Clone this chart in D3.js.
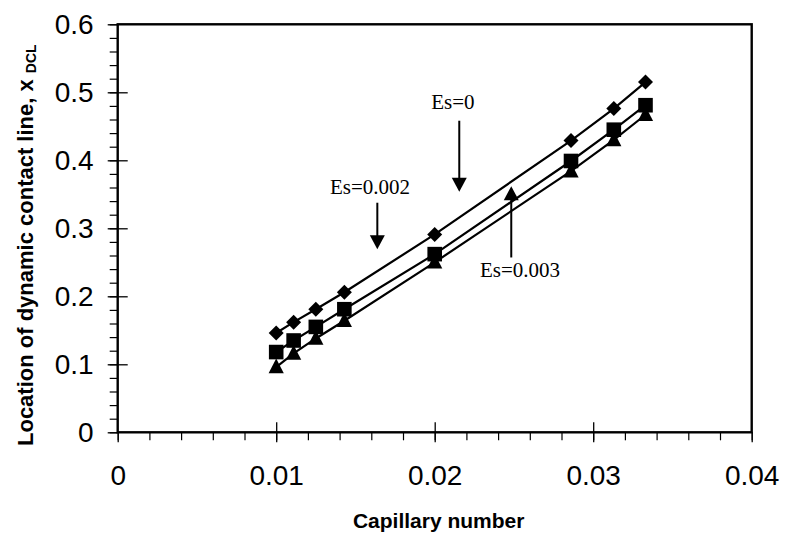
<!DOCTYPE html>
<html>
<head>
<meta charset="utf-8">
<script src="https://cdn.jsdelivr.net/npm/d3@7"></script>
<style>
  body { margin: 0; background: #fff; }
  svg { display: block; }
</style>
</head>
<body>
<svg id="chart" width="785" height="540"></svg>
<script>
// Capillary numbers (1/100, 1/90, 1/80, 1/70, 1/50, 1/35, 1/32, 1/30)
const capillary = [0.0100, 0.0111, 0.0125, 0.0143, 0.0200, 0.0286, 0.0313, 0.0333];

// Location of the dynamic contact line for each elasticity number
const xdclEs0    = [0.146, 0.162, 0.181, 0.206, 0.291, 0.429, 0.476, 0.515];
const xdclEs0002 = [0.118, 0.135, 0.155, 0.181, 0.262, 0.399, 0.445, 0.481];
const xdclEs0003 = [0.096, 0.116, 0.138, 0.164, 0.250, 0.384, 0.430, 0.467];

const seriesNames   = ["Es=0", "Es=0.002", "Es=0.003"];
const seriesMarkers = ["diamond", "square", "triangle"];

const xTickValues = [0, 0.01, 0.02, 0.03, 0.04];
const xTickLabels = ["0", "0.01", "0.02", "0.03", "0.04"];
const yTickValues = [0, 0.1, 0.2, 0.3, 0.4, 0.5, 0.6];
const yTickLabels = ["0", "0.1", "0.2", "0.3", "0.4", "0.5", "0.6"];

// Annotation labels with their arrows (data coordinates)
const noteTexts  = ["Es=0", "Es=0.002", "Es=0.003"];
const noteTextCa = [0.02115, 0.01592, 0.02538];
const noteTextY  = [0.4754, 0.3504, 0.2284];
const arrowCa    = [0.02155, 0.01638, 0.02483];
const arrowFrom  = [0.4582, 0.3376, 0.2571];
const arrowTo    = [0.3538, 0.2693, 0.3619];

const svg = d3.select("#chart");
const plot = { left: 117.7, right: 751.7, top: 24.3, bottom: 432.3 };

const x = d3.scaleLinear().domain([0, 0.04]).range([plot.left, plot.right]);
const y = d3.scaleLinear().domain([0, 0.6]).range([plot.bottom, plot.top]);

const sans = "'Liberation Sans', Arial, sans-serif";
const serif = "'Liberation Serif', 'Times New Roman', serif";

// ---- Axes -------------------------------------------------------------
const xMinor = d3.range(0, 0.0401, 0.002).map(v => +v.toFixed(4));
const yMinor = d3.range(0, 0.601, 0.02).map(v => +v.toFixed(3));

// minor ticks (outside only)
svg.append("g")
  .attr("transform", `translate(0,${plot.bottom})`)
  .call(d3.axisBottom(x).tickValues(xMinor).tickSize(8).tickFormat(""))
  .call(g => g.select(".domain").remove())
  .call(g => g.selectAll("line").attr("stroke", "#000").attr("stroke-width", 1.2));

svg.append("g")
  .attr("transform", `translate(${plot.left},0)`)
  .call(d3.axisLeft(y).tickValues(yMinor).tickSize(8).tickFormat(""))
  .call(g => g.select(".domain").remove())
  .call(g => g.selectAll("line").attr("stroke", "#000").attr("stroke-width", 1.2));

// major ticks (crossing the axis) with labels
const xAxis = svg.append("g")
  .attr("transform", `translate(0,${plot.bottom})`)
  .call(d3.axisBottom(x).tickValues(xTickValues).tickSize(10).tickPadding(14)
    .tickFormat((d, i) => xTickLabels[i]));
xAxis.select(".domain").remove();
xAxis.selectAll(".tick line")
  .attr("stroke", "#000").attr("stroke-width", 1.3)
  .attr("y1", (d, i) => (i > 0 && i < xTickValues.length - 1) ? -10 : 0);
xAxis.selectAll(".tick text")
  .attr("font-family", sans).attr("font-size", 28).attr("fill", "#000")
  .attr("dy", null).attr("y", 53);

const yAxis = svg.append("g")
  .attr("transform", `translate(${plot.left},0)`)
  .call(d3.axisLeft(y).tickValues(yTickValues).tickSize(10).tickPadding(14)
    .tickFormat((d, i) => yTickLabels[i]));
yAxis.select(".domain").remove();
yAxis.selectAll(".tick line")
  .attr("stroke", "#000").attr("stroke-width", 1.3)
  .attr("x1", (d, i) => (i > 0 && i < yTickValues.length - 1) ? 10 : 0);
yAxis.selectAll(".tick text")
  .attr("font-family", sans).attr("font-size", 28).attr("fill", "#000")
  .attr("x", -24);

// plot frame
svg.append("rect")
  .attr("x", plot.left).attr("y", plot.top)
  .attr("width", plot.right - plot.left).attr("height", plot.bottom - plot.top)
  .attr("fill", "none").attr("stroke", "#000").attr("stroke-width", 2.4);

// ---- Series -----------------------------------------------------------
const seriesValues = [xdclEs0, xdclEs0002, xdclEs0003];
const line = d3.line().x(d => x(d[0])).y(d => y(d[1]));

const markerPath = {
  diamond:  d3.symbol().type({ draw(ctx) { const r = 7.5; ctx.moveTo(0, -r); ctx.lineTo(r, 0); ctx.lineTo(0, r); ctx.lineTo(-r, 0); ctx.closePath(); } })(),
  square:   d3.symbol().type({ draw(ctx) { const h = 7.3; ctx.rect(-h, -h, 2 * h, 2 * h); } })(),
  triangle: d3.symbol().type({ draw(ctx) { ctx.moveTo(0, -8.5); ctx.lineTo(7.6, 6.3); ctx.lineTo(-7.6, 6.3); ctx.closePath(); } })()
};

seriesValues.forEach((vals, s) => {
  const pts = capillary.map((c, i) => [c, vals[i]]);
  const g = svg.append("g").attr("class", "series").attr("data-name", seriesNames[s]);
  g.append("path").datum(pts)
    .attr("d", line).attr("fill", "none")
    .attr("stroke", "#000").attr("stroke-width", 2.2);
  g.selectAll("path.mark").data(pts).join("path")
    .attr("class", "mark")
    .attr("d", markerPath[seriesMarkers[s]])
    .attr("transform", d => `translate(${x(d[0])},${y(d[1])})`)
    .attr("fill", "#000");
});

// ---- Annotations --------------------------------------------------------
noteTexts.forEach((t, i) => {
  svg.append("text")
    .attr("x", x(noteTextCa[i])).attr("y", y(noteTextY[i]))
    .attr("text-anchor", "middle")
    .attr("font-family", serif).attr("font-size", 21).attr("fill", "#000")
    .text(t);
  const ax = x(arrowCa[i]), y0 = y(arrowFrom[i]), y1 = y(arrowTo[i]);
  const dir = y1 > y0 ? 1 : -1;
  const headLen = 14, headHalf = 7.5;
  svg.append("line")
    .attr("x1", ax).attr("x2", ax)
    .attr("y1", y0).attr("y2", y1 - dir * headLen + dir)
    .attr("stroke", "#000").attr("stroke-width", 2);
  svg.append("path")
    .attr("d", d3.line()([[ax, y1], [ax - headHalf, y1 - dir * headLen], [ax + headHalf, y1 - dir * headLen]]) + "Z")
    .attr("fill", "#000");
});

// ---- Axis titles --------------------------------------------------------
svg.append("text")
  .attr("x", (plot.left + plot.right) / 2 + 4).attr("y", 528)
  .attr("text-anchor", "middle")
  .attr("font-family", sans).attr("font-size", 21).attr("font-weight", "bold")
  .text("Capillary number");

const yTitle = svg.append("text")
  .attr("transform", "translate(33,446) rotate(-90)")
  .attr("text-anchor", "start")
  .attr("font-family", sans).attr("font-size", 22).attr("font-weight", "bold");
yTitle.append("tspan").text("Location of dynamic contact line, x ");
yTitle.append("tspan").attr("font-size", 14).attr("dy", 3).text("DCL");
</script>
</body>
</html>
